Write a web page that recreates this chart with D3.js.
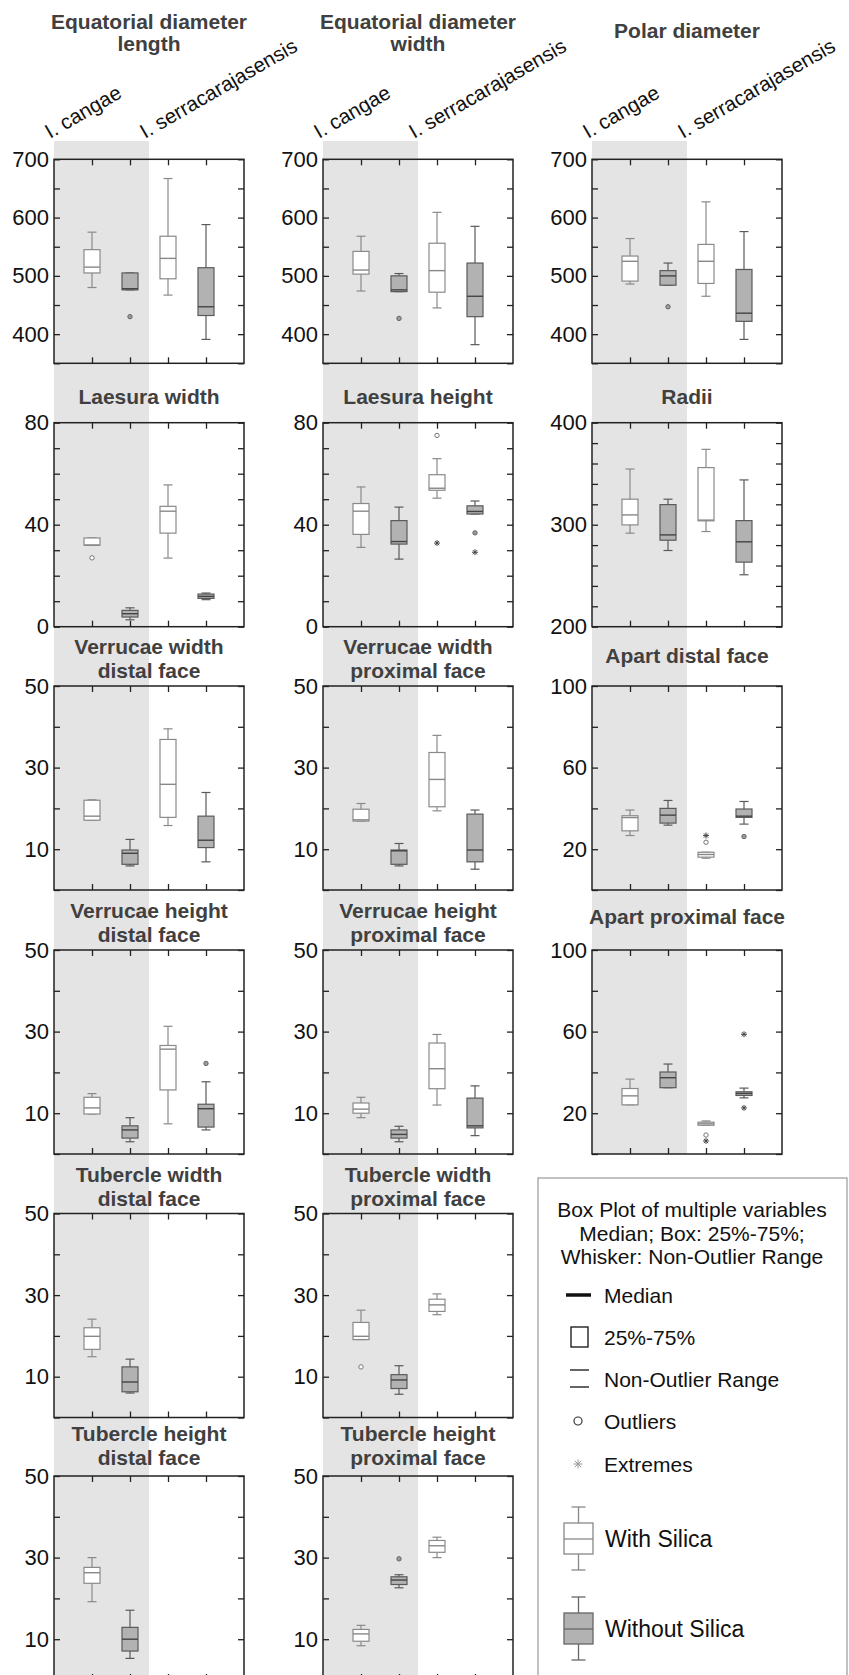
<!DOCTYPE html>
<html>
<head>
<meta charset="utf-8">
<script src="https://cdn.jsdelivr.net/npm/d3@7"></script>
<style>
  body { margin: 0; background: #fff; }
  svg { display: block; font-family: Arial, "Liberation Sans", sans-serif; }
</style>
</head>
<body>
<svg id="chart" width="849" height="1675"></svg>
<script>
// categories and groups
const categories = ["I. cangae", "I. serracarajasensis"];
const groups = ["With Silica", "Without Silica"];

const titles = [
  ["Equatorial diameter", "length"], ["Equatorial diameter", "width"], ["Polar diameter"],
  ["Laesura width"], ["Laesura height"], ["Radii"],
  ["Verrucae width", "distal face"], ["Verrucae width", "proximal face"], ["Apart distal face"],
  ["Verrucae height", "distal face"], ["Verrucae height", "proximal face"], ["Apart proximal face"],
  ["Tubercle width", "distal face"], ["Tubercle width", "proximal face"],
  ["Tubercle height", "distal face"], ["Tubercle height", "proximal face"]
];

const yDomains = [[350, 700], [350, 700], [350, 700], [0, 80], [0, 80], [200, 400],
  [0, 50], [0, 50], [0, 100], [0, 50], [0, 50], [0, 100], [0, 50], [0, 50], [0, 50], [0, 50]];
const yTickStep = [50, 50, 50, 10, 10, 20, 10, 10, 20, 10, 10, 20, 10, 10, 10, 10];
const yTickLabels = [
  [400, 500, 600, 700], [400, 500, 600, 700], [400, 500, 600, 700],
  [0, 40, 80], [0, 40, 80], [200, 300, 400],
  [10, 30, 50], [10, 30, 50], [20, 60, 100],
  [10, 30, 50], [10, 30, 50], [20, 60, 100],
  [10, 30, 50], [10, 30, 50], [10, 30, 50], [10, 30, 50]
];

// box stats per panel: [whisker low, Q1, median, Q3, whisker high]
// order: cangae with, cangae without, serracarajasensis with, serracarajasensis without
const eqLength = [[480, 505, 515, 545, 575], [476, 476, 478, 505, 505], [467, 495, 530, 568, 667], [391, 432, 447, 514, 588]];
const eqWidth = [[474, 503, 510, 542, 568], [473, 473, 476, 500, 504], [445, 472, 509, 556, 609], [382, 430, 465, 522, 585]];
const polarDiam = [[486, 491, 525, 534, 564], [484, 484, 500, 509, 522], [465, 487, 525, 554, 627], [391, 422, 436, 511, 576]];
const laesuraW = [[32, 32, 32, 34.8, 34.8], [2.7, 3.8, 5.1, 6.4, 7.4], [26.9, 36.7, 45.3, 47.2, 55.6], [10.6, 11.1, 11.9, 12.8, 13.2]];
const laesuraH = [[31.1, 36.2, 45.3, 48.3, 54.8], [26.5, 32.4, 33.4, 41.6, 46.9], [50.4, 53.5, 54.3, 59.6, 65.9], [44.2, 44.2, 45.2, 47.4, 49.3]];
const radii = [[291.7, 299.8, 309.6, 325, 354.6], [274.7, 284.8, 290, 319.7, 325], [293.3, 303.8, 304.5, 356, 373.9], [250.9, 263.3, 283.2, 304, 343.9]];
const verrWDistal = [[17.1, 17.1, 18.1, 22, 22.1], [5.9, 6.3, 9, 9.8, 12.4], [15.8, 17.8, 25.9, 36.9, 39.5], [6.9, 10.4, 12.2, 18.1, 23.9]];
const verrWProx = [[16.9, 16.9, 17.2, 19.8, 21.2], [5.9, 6.3, 9.6, 9.8, 11.4], [19.4, 20.4, 27.1, 33.7, 37.9], [5.1, 6.9, 9.8, 18.6, 19.6]];
const apartDistal = [[26.7, 29, 35.5, 36.4, 39.2], [31.8, 32.8, 36.7, 40, 43.9], [15.6, 16.1, 17.4, 18.5, 18.5], [32.3, 35.6, 36.2, 39.7, 43.4]];
const verrHDistal = [[9.8, 9.8, 11.3, 13.9, 14.8], [3, 3.9, 5.9, 6.9, 8.9], [7.4, 15.7, 25.7, 26.6, 31.3], [5.9, 6.6, 11.1, 12.2, 17.7]];
const verrHProx = [[8.9, 10, 11, 12.5, 13.9], [3, 3.9, 4.8, 5.9, 6.8], [12, 16, 20.9, 27.2, 29.3], [4.5, 6.4, 6.9, 13.7, 16.7]];
const apartProx = [[24.1, 24.1, 28.5, 32.1, 36.7], [32.5, 32.5, 37.4, 40.2, 44.1], [14.1, 14.1, 14.8, 15.6, 16.2], [27.5, 28.7, 29.7, 30.5, 32.3]];
const tubWDistal = [[14.9, 16.7, 19.9, 22, 24.1], [6, 6.3, 8.7, 12.4, 14.3], null, null];
const tubWProx = [[19.1, 19.1, 19.9, 23.3, 26.3], [5.7, 7.1, 9.2, 10.5, 12.7], [25.2, 26, 27.6, 29, 30.3], null];
const tubHDistal = [[19.2, 23.7, 26.3, 27.6, 30], [5.3, 7.1, 10, 12.9, 17.1], null, null];
const tubHProx = [[8.4, 9.5, 11.3, 12.4, 13.4], [22.6, 23.4, 24.5, 25.3, 25.8], [30, 31.3, 32.9, 34.2, 35], null];

const panelStats = [eqLength, eqWidth, polarDiam, laesuraW, laesuraH, radii,
  verrWDistal, verrWProx, apartDistal, verrHDistal, verrHProx, apartProx,
  tubWDistal, tubWProx, tubHDistal, tubHProx];

// [panel, box, value]
const outliers = [[0, 1, 430], [1, 1, 427], [2, 1, 447], [3, 0, 27], [4, 2, 75], [4, 3, 36.8],
  [8, 2, 23.4], [8, 3, 26.2], [9, 3, 22.2], [11, 2, 9.3], [13, 0, 12.4], [15, 1, 29.7]];
const extremes = [[4, 2, 32.8], [4, 3, 29.2], [8, 2, 26.7], [11, 2, 6.4], [11, 3, 58.7], [11, 3, 22.6]];

// layout
const colX = [54, 323, 592];
const rowY = [159.3, 422.7, 686, 950, 1213.5, 1476];
const plotW = 190, plotH = 204;

const svg = d3.select("#chart");

function panelPos(i) {
  if (i < 12) return [Math.floor(i / 3), i % 3];
  return [4 + Math.floor((i - 12) / 2), (i - 12) % 2];
}

const xScale = d3.scaleLinear().domain([0, 5]).range([0, plotW]);

// grey band behind I. cangae
colX.forEach((x0, c) => {
  const bottom = c === 2 ? rowY[3] + plotH : 1675;
  svg.append("rect")
    .attr("x", x0).attr("y", 141)
    .attr("width", xScale(2.5)).attr("height", bottom - 141)
    .attr("fill", "#e4e4e4");
});

// category labels on top row
colX.forEach(x0 => {
  categories.forEach((name, k) => {
    const lx = x0 + xScale(k * 2.5) - 4;
    svg.append("text")
      .attr("transform", `translate(${lx},139) rotate(-30)`)
      .attr("font-size", 20.5)
      .attr("fill", "#111")
      .text(name);
  });
});

panelStats.forEach((stats, i) => {
  const [row, col] = panelPos(i);
  const top = rowY[row];
  const g = svg.append("g").attr("transform", `translate(${colX[col]},${top})`);
  const y = d3.scaleLinear().domain(yDomains[i]).range([plotH, 0]);

  // title
  const lines = titles[i];
  let ys;
  if (row === 0) ys = lines.length === 2 ? [29 - top, 51 - top] : [38 - top];
  else if (lines.length === 2) ys = row === 5 ? [-35, -11] : [-32, -8];
  else ys = [row === 1 ? -19 : row === 2 ? -23 : -26];
  lines.forEach((t, k) => {
    g.append("text")
      .attr("x", plotW / 2).attr("y", ys[k])
      .attr("text-anchor", "middle")
      .attr("font-size", 21).attr("font-weight", "bold")
      .attr("fill", "#404040")
      .text(t);
  });

  // axes, ticks pointing inward
  const ticks = d3.range(yDomains[i][0], yDomains[i][1] + 0.001, yTickStep[i]);
  const fmt = d => yTickLabels[i].includes(d) ? d : "";
  const axes = [
    g.append("g").call(d3.axisLeft(y).tickValues(ticks).tickSize(-6).tickPadding(5).tickFormat(fmt)),
    g.append("g").attr("transform", `translate(${plotW},0)`).call(d3.axisRight(y).tickValues(ticks).tickSize(-6).tickFormat("")),
    g.append("g").call(d3.axisTop(xScale).tickValues([1, 2, 3, 4]).tickSize(-6).tickFormat("")),
    g.append("g").attr("transform", `translate(0,${plotH})`).call(d3.axisBottom(xScale).tickValues([1, 2, 3, 4]).tickSize(-6).tickFormat(""))
  ];
  axes.forEach(a => {
    a.select(".domain").remove();
    a.selectAll("line").attr("stroke", "#222").attr("stroke-width", 1.3);
    a.selectAll("text").attr("font-size", 22).attr("fill", "#111")
      .attr("font-family", 'Arial, "Liberation Sans", sans-serif');
  });

  // boxes
  stats.forEach((s, j) => {
    if (!s) return;
    const [lo, q1, med, q3, hi] = s;
    const cx = xScale(j + 1);
    const grey = j % 2 === 1;
    const stroke = grey ? "#5a5a5a" : "#8a8a8a";
    const bw = 8, cw = 4.5;
    g.append("line").attr("x1", cx).attr("x2", cx).attr("y1", y(hi)).attr("y2", y(q3))
      .attr("stroke", stroke).attr("stroke-width", 1.2);
    g.append("line").attr("x1", cx).attr("x2", cx).attr("y1", y(q1)).attr("y2", y(lo))
      .attr("stroke", stroke).attr("stroke-width", 1.2);
    [hi, lo].forEach(v => {
      g.append("line").attr("x1", cx - cw).attr("x2", cx + cw).attr("y1", y(v)).attr("y2", y(v))
        .attr("stroke", stroke).attr("stroke-width", 1.2);
    });
    g.append("rect")
      .attr("x", cx - bw).attr("y", y(q3))
      .attr("width", bw * 2).attr("height", Math.max(1, y(q1) - y(q3)))
      .attr("fill", grey ? "#b2b2b2" : "#fff")
      .attr("stroke", stroke).attr("stroke-width", 1.2);
    g.append("line").attr("x1", cx - bw).attr("x2", cx + bw).attr("y1", y(med)).attr("y2", y(med))
      .attr("stroke", grey ? "#444" : "#888").attr("stroke-width", 1.4);
  });

  outliers.filter(o => o[0] === i).forEach(([, j, v]) => {
    const grey = j % 2 === 1;
    g.append("circle").attr("cx", xScale(j + 1)).attr("cy", y(v)).attr("r", 2.2)
      .attr("fill", grey ? "#9a9a9a" : "#fff").attr("stroke", grey ? "#666" : "#777").attr("stroke-width", 1);
  });
  extremes.filter(o => o[0] === i).forEach(([, j, v]) => {
    const cx = xScale(j + 1), cy = y(v), r = 3;
    g.append("path")
      .attr("d", `M${cx - r},${cy}H${cx + r}M${cx},${cy - r}V${cy + r}M${cx - r * 0.7},${cy - r * 0.7}L${cx + r * 0.7},${cy + r * 0.7}M${cx - r * 0.7},${cy + r * 0.7}L${cx + r * 0.7},${cy - r * 0.7}`)
      .attr("stroke", "#444").attr("stroke-width", 1);
  });

  // frame
  g.append("rect").attr("width", plotW).attr("height", plotH)
    .attr("fill", "none").attr("stroke", "#222").attr("stroke-width", 1.5);
});

// legend
const legend = svg.append("g");
legend.append("rect").attr("x", 538).attr("y", 1178).attr("width", 309).attr("height", 600)
  .attr("fill", "#fff").attr("stroke", "#999").attr("stroke-width", 1.2);

const legendHeader = ["Box Plot of multiple variables", "Median; Box: 25%-75%;", "Whisker: Non-Outlier Range"];
legendHeader.forEach((t, k) => {
  legend.append("text").attr("x", 692).attr("y", 1217 + k * 23.5)
    .attr("text-anchor", "middle").attr("font-size", 21).attr("fill", "#111").text(t);
});

const legendItems = ["Median", "25%-75%", "Non-Outlier Range", "Outliers", "Extremes"];
const itemY = [1295, 1337, 1379, 1421, 1464];
legendItems.forEach((t, k) => {
  legend.append("text").attr("x", 604).attr("y", itemY[k] + 8)
    .attr("font-size", 21).attr("fill", "#111").text(t);
});
legend.append("line").attr("x1", 566).attr("x2", 591).attr("y1", itemY[0]).attr("y2", itemY[0])
  .attr("stroke", "#111").attr("stroke-width", 3.5);
legend.append("rect").attr("x", 571).attr("y", itemY[1] - 10).attr("width", 17).attr("height", 20)
  .attr("fill", "none").attr("stroke", "#111").attr("stroke-width", 1.3);
[itemY[2] - 9, itemY[2] + 8].forEach(yy => {
  legend.append("line").attr("x1", 570).attr("x2", 589).attr("y1", yy).attr("y2", yy)
    .attr("stroke", "#111").attr("stroke-width", 1.3);
});
legend.append("circle").attr("cx", 578).attr("cy", itemY[3]).attr("r", 4)
  .attr("fill", "none").attr("stroke", "#333").attr("stroke-width", 1.2);
{
  const cx = 578, cy = itemY[4], r = 4.5;
  legend.append("path")
    .attr("d", `M${cx - r},${cy}H${cx + r}M${cx},${cy - r}V${cy + r}M${cx - r * 0.7},${cy - r * 0.7}L${cx + r * 0.7},${cy + r * 0.7}M${cx - r * 0.7},${cy + r * 0.7}L${cx + r * 0.7},${cy - r * 0.7}`)
    .attr("stroke", "#999").attr("stroke-width", 1);
}

// group symbols
const groupSym = [{ y: 1539, fill: "#fff", stroke: "#888" }, { y: 1629, fill: "#b2b2b2", stroke: "#666" }];
groups.forEach((name, k) => {
  const s = groupSym[k];
  const cx = 578.5;
  legend.append("line").attr("x1", cx).attr("x2", cx).attr("y1", s.y - 32).attr("y2", s.y + 31)
    .attr("stroke", s.stroke).attr("stroke-width", 1.3);
  [s.y - 32, s.y + 31].forEach(yy => {
    legend.append("line").attr("x1", cx - 7).attr("x2", cx + 7).attr("y1", yy).attr("y2", yy)
      .attr("stroke", s.stroke).attr("stroke-width", 1.3);
  });
  legend.append("rect").attr("x", cx - 14.5).attr("y", s.y - 16).attr("width", 29).attr("height", 31)
    .attr("fill", s.fill).attr("stroke", s.stroke).attr("stroke-width", 1.3);
  legend.append("line").attr("x1", cx - 14.5).attr("x2", cx + 14.5).attr("y1", s.y).attr("y2", s.y)
    .attr("stroke", s.stroke).attr("stroke-width", 1.3);
  legend.append("text").attr("x", 605).attr("y", s.y + 8)
    .attr("font-size", 23).attr("fill", "#111").text(name);
});
</script>
</body>
</html>
